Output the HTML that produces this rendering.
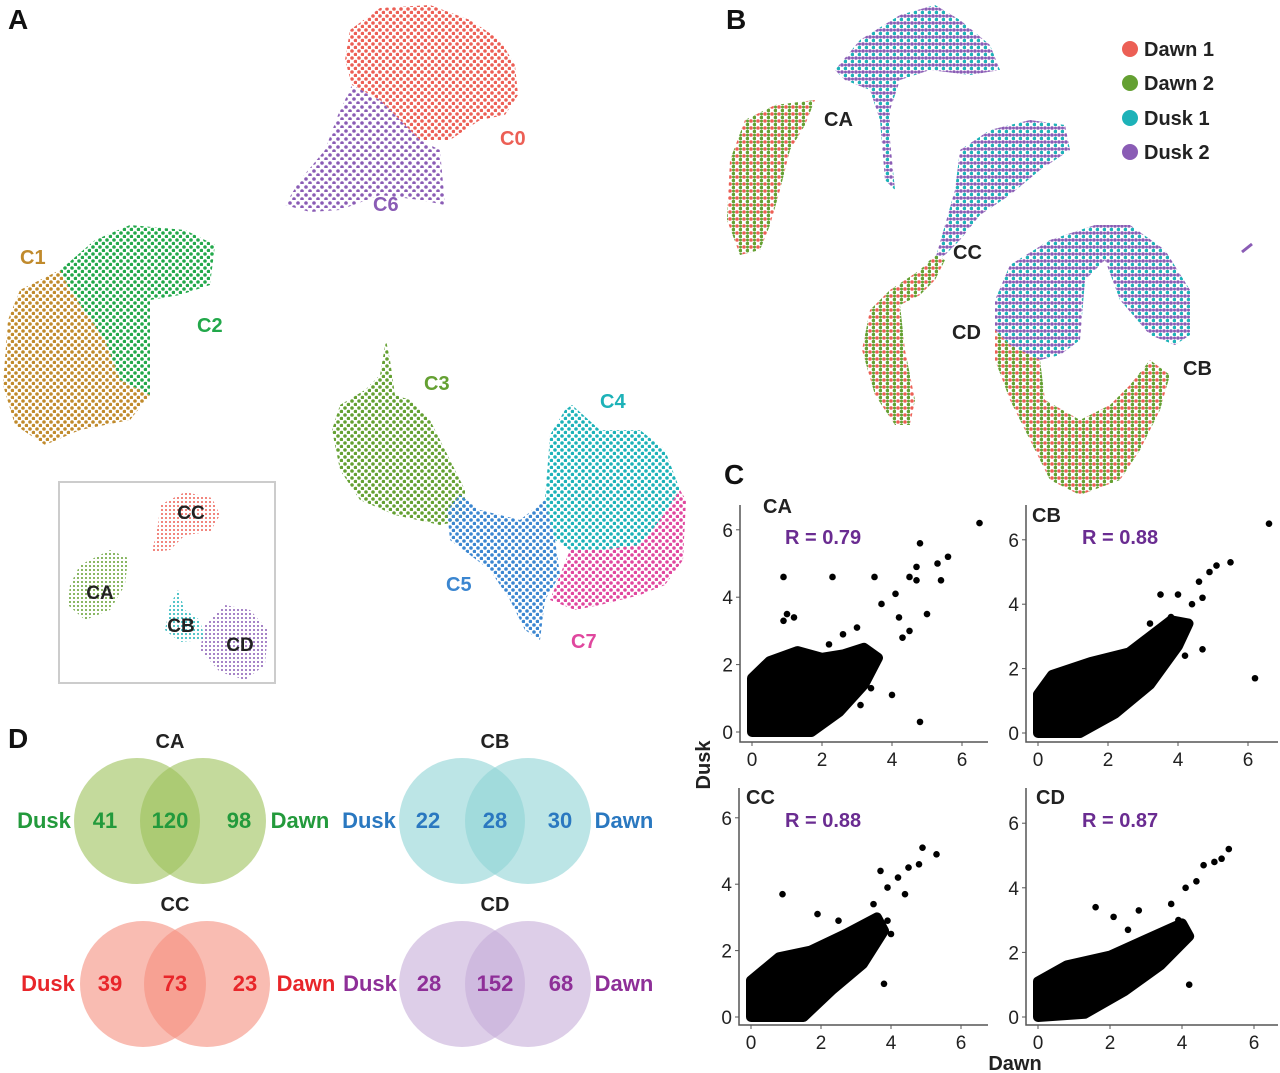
<!DOCTYPE html>
<html><head><meta charset="utf-8">
<style>
html,body{margin:0;padding:0;background:#fff;}
svg{display:block;font-family:"Liberation Sans",Arial,sans-serif;font-weight:bold;}
</style></head>
<body>
<svg id="fig" width="1280" height="1073" viewBox="0 0 1280 1073" xmlns="http://www.w3.org/2000/svg">
<defs>
<pattern id="pRed" width="7" height="7" patternUnits="userSpaceOnUse"><circle cx="2" cy="2" r="1.8" fill="#ec5f55"/><circle cx="5.5" cy="5.5" r="1.8" fill="#ec5f55"/></pattern>
<pattern id="pPurp" width="8" height="8" patternUnits="userSpaceOnUse"><circle cx="2" cy="3" r="1.8" fill="#8a5cb5"/><circle cx="6" cy="7" r="1.8" fill="#8a5cb5"/></pattern>
<pattern id="pGreen" width="7" height="7" patternUnits="userSpaceOnUse"><circle cx="2" cy="2" r="1.8" fill="#22a84a"/><circle cx="5.5" cy="5.5" r="1.8" fill="#22a84a"/></pattern>
<pattern id="pBrown" width="7" height="7" patternUnits="userSpaceOnUse"><circle cx="2" cy="2" r="1.8" fill="#c08a2c"/><circle cx="5.5" cy="5.5" r="1.8" fill="#c08a2c"/></pattern>
<pattern id="pOlive" width="7" height="7" patternUnits="userSpaceOnUse"><circle cx="2" cy="2" r="1.8" fill="#64a032"/><circle cx="5.5" cy="5.5" r="1.8" fill="#64a032"/></pattern>
<pattern id="pTeal" width="7" height="7" patternUnits="userSpaceOnUse"><circle cx="2" cy="2" r="1.8" fill="#1db2b8"/><circle cx="5.5" cy="5.5" r="1.8" fill="#1db2b8"/></pattern>
<pattern id="pBlue" width="7" height="7" patternUnits="userSpaceOnUse"><circle cx="2" cy="2" r="1.8" fill="#3b86d0"/><circle cx="5.5" cy="5.5" r="1.8" fill="#3b86d0"/></pattern>
<pattern id="pPink" width="7" height="7" patternUnits="userSpaceOnUse"><circle cx="2" cy="2" r="1.8" fill="#e0479e"/><circle cx="5.5" cy="5.5" r="1.8" fill="#e0479e"/></pattern>
<pattern id="pDusk" width="7" height="7" patternUnits="userSpaceOnUse"><circle cx="2" cy="2" r="1.8" fill="#8a5cb5"/><circle cx="5.5" cy="5.5" r="1.8" fill="#1db2b8"/><circle cx="5.5" cy="2" r="1.5" fill="#8a5cb5"/></pattern>
<pattern id="pDawn" width="7" height="7" patternUnits="userSpaceOnUse"><circle cx="2" cy="2" r="1.8" fill="#ec5f55"/><circle cx="5.5" cy="5.5" r="1.8" fill="#64a032"/><circle cx="5.5" cy="2" r="1.5" fill="#64a032"/></pattern>
<pattern id="pSmRed" width="4" height="4" patternUnits="userSpaceOnUse"><circle cx="2" cy="2" r="1" fill="#ec5f55"/></pattern>
<pattern id="pSmGreen" width="4" height="4" patternUnits="userSpaceOnUse"><circle cx="2" cy="2" r="1" fill="#64a032"/></pattern>
<pattern id="pSmTeal" width="4" height="4" patternUnits="userSpaceOnUse"><circle cx="2" cy="2" r="1" fill="#1db2b8"/></pattern>
<pattern id="pSmPurp" width="4" height="4" patternUnits="userSpaceOnUse"><circle cx="2" cy="2" r="1" fill="#8a5cb5"/></pattern>
</defs>

<g>
<text x="8" y="29" font-size="28" fill="#111">A</text>
<polygon fill="url(#pRed)" points="350,30 380,8 430,5 470,20 500,40 515,65 518,95 505,115 480,120 450,140 420,140 400,120 380,100 352,85 345,60"/>
<polygon fill="url(#pPurp)" points="352,85 380,100 400,120 420,140 440,150 445,205 420,200 380,195 340,210 310,212 285,205 300,180 325,150 338,115"/>
<text x="500" y="145" font-size="20" fill="#ec5f55">C0</text>
<text x="373" y="211" font-size="20" fill="#8a5cb5">C6</text>

<polygon fill="url(#pGreen)" points="95,240 130,225 185,230 215,245 210,285 180,295 150,300 150,350 150,395 120,380 105,340 70,290 60,270"/>
<polygon fill="url(#pBrown)" points="20,290 60,270 70,290 105,340 120,380 150,395 130,420 80,430 45,445 15,425 3,385 8,320"/>
<text x="20" y="264" font-size="20" fill="#c08a2c">C1</text>
<text x="197" y="332" font-size="20" fill="#22a84a">C2</text>

<polygon fill="url(#pOlive)" points="340,405 365,390 380,375 386,340 390,360 395,395 410,400 430,420 450,460 465,490 465,520 440,525 395,515 360,500 340,470 332,430"/>
<polygon fill="url(#pBlue)" points="460,495 480,510 520,520 545,500 555,540 560,575 545,600 540,640 525,630 510,600 490,570 450,540 447,510"/>
<polygon fill="url(#pTeal)" points="550,435 565,410 572,405 600,430 640,430 665,450 680,490 660,520 640,545 600,550 570,550 555,540 545,500"/>
<polygon fill="url(#pPink)" points="660,520 680,490 686,500 683,560 665,585 640,595 600,605 575,610 550,600 560,575 570,550 600,550 640,545"/>
<text x="424" y="390" font-size="20" fill="#64a032">C3</text>
<text x="600" y="408" font-size="20" fill="#1db2b8">C4</text>
<text x="446" y="591" font-size="20" fill="#3b86d0">C5</text>
<text x="571" y="648" font-size="20" fill="#e0479e">C7</text>

<g>
<rect x="59" y="482" width="216" height="201" fill="#fff" stroke="#ccc" stroke-width="2"/>
<polygon fill="url(#pSmRed)" points="160,505 185,492 212,498 220,515 210,532 185,535 170,550 152,552 158,525"/>
<polygon fill="url(#pSmGreen)" points="80,565 110,550 128,558 125,585 110,610 85,620 68,605 70,585"/>
<polygon fill="url(#pSmTeal)" points="170,605 178,590 185,610 200,620 205,640 180,642 165,630"/>
<polygon fill="url(#pSmPurp)" points="205,625 225,605 250,610 268,630 265,665 245,680 220,672 200,650"/>
<text x="191" y="519" font-size="19" fill="#222" text-anchor="middle">CC</text>
<text x="100" y="599" font-size="19" fill="#222" text-anchor="middle">CA</text>
<text x="181" y="632" font-size="19" fill="#222" text-anchor="middle">CB</text>
<text x="240" y="651" font-size="19" fill="#222" text-anchor="middle">CD</text>
</g>
</g>

<g>
<text x="726" y="29" font-size="28" fill="#111">B</text>
<polygon fill="url(#pDusk)" points="835,70 860,40 900,15 935,5 960,20 990,45 1000,70 970,75 930,70 900,80 890,110 890,140 895,190 885,180 880,120 870,90 845,80"/>
<polygon fill="url(#pDawn)" points="730,160 745,120 775,105 815,100 805,125 790,150 780,190 770,225 760,250 740,255 727,220"/>
<polygon fill="url(#pDusk)" points="960,150 990,130 1030,120 1065,125 1070,150 1040,170 1010,195 980,215 960,240 945,255 935,260 945,225 955,190"/>
<polygon fill="url(#pDawn)" points="935,255 945,260 935,280 920,295 900,305 905,350 915,400 910,425 895,425 875,395 862,350 870,310 890,290 920,270"/>
<polygon fill="url(#pDusk)" points="995,300 1010,265 1050,240 1095,225 1130,225 1165,250 1190,290 1190,335 1175,345 1150,335 1120,300 1105,260 1085,280 1080,340 1060,355 1040,360 1010,345 995,330"/>
<polygon fill="url(#pDawn)" points="995,330 1010,345 1040,360 1045,400 1080,420 1110,405 1130,385 1150,360 1170,375 1160,410 1140,450 1120,480 1080,495 1050,480 1030,440 1010,400 995,360"/>
<text x="824" y="126" font-size="20" fill="#222">CA</text>
<text x="953" y="259" font-size="20" fill="#222">CC</text>
<text x="952" y="339" font-size="20" fill="#222">CD</text>
<text x="1183" y="375" font-size="20" fill="#222">CB</text>
<line x1="1242" y1="252" x2="1252" y2="244" stroke="#8a5cb5" stroke-width="3"/>
<g>
<circle cx="1130" cy="49" r="8" fill="#ec5f55"/><text x="1144" y="56" font-size="20" fill="#222">Dawn 1</text>
<circle cx="1130" cy="83" r="8" fill="#64a032"/><text x="1144" y="90" font-size="20" fill="#222">Dawn 2</text>
<circle cx="1130" cy="118" r="8" fill="#1db2b8"/><text x="1144" y="125" font-size="20" fill="#222">Dusk 1</text>
<circle cx="1130" cy="152" r="8" fill="#8a5cb5"/><text x="1144" y="159" font-size="20" fill="#222">Dusk 2</text>
</g>
</g>

<g id="panelC">
<text x="724" y="484" font-size="28" fill="#111">C</text>
<text transform="translate(710,765) rotate(-90)" font-size="20" fill="#222" text-anchor="middle">Dusk</text>
<text x="1015" y="1070" font-size="20" fill="#222" text-anchor="middle">Dawn</text>
</g>

<g>
<text x="8" y="748" font-size="28" fill="#111">D</text>
<g>
<circle cx="137" cy="821" r="63" fill="#9cc15a" fill-opacity="0.6"/><circle cx="203" cy="821" r="63" fill="#9cc15a" fill-opacity="0.6"/>
<text x="170" y="748" font-size="20" fill="#222" text-anchor="middle">CA</text>
<g fill="#239a3c" font-size="22" text-anchor="middle"><text x="44" y="828">Dusk</text><text x="105" y="828">41</text><text x="170" y="828">120</text><text x="239" y="828">98</text><text x="300" y="828">Dawn</text></g>
</g>
<g>
<circle cx="462" cy="821" r="63" fill="#8fd3d6" fill-opacity="0.6"/><circle cx="528" cy="821" r="63" fill="#8fd3d6" fill-opacity="0.6"/>
<text x="495" y="748" font-size="20" fill="#222" text-anchor="middle">CB</text>
<g fill="#2a78c0" font-size="22" text-anchor="middle"><text x="369" y="828">Dusk</text><text x="428" y="828">22</text><text x="495" y="828">28</text><text x="560" y="828">30</text><text x="624" y="828">Dawn</text></g>
</g>
<g>
<circle cx="143" cy="984" r="63" fill="#f5907e" fill-opacity="0.6"/><circle cx="207" cy="984" r="63" fill="#f5907e" fill-opacity="0.6"/>
<text x="175" y="911" font-size="20" fill="#222" text-anchor="middle">CC</text>
<g fill="#e8262a" font-size="22" text-anchor="middle"><text x="48" y="991">Dusk</text><text x="110" y="991">39</text><text x="175" y="991">73</text><text x="245" y="991">23</text><text x="306" y="991">Dawn</text></g>
</g>
<g>
<circle cx="462" cy="984" r="63" fill="#c7aed8" fill-opacity="0.6"/><circle cx="528" cy="984" r="63" fill="#c7aed8" fill-opacity="0.6"/>
<text x="495" y="911" font-size="20" fill="#222" text-anchor="middle">CD</text>
<g fill="#8e2f98" font-size="22" text-anchor="middle"><text x="370" y="991">Dusk</text><text x="429" y="991">28</text><text x="495" y="991">152</text><text x="561" y="991">68</text><text x="624" y="991">Dawn</text></g>
</g>
</g>
</svg>

<script>
const panelNames = ["CA","CB","CC","CD"];
const rValues = ["R = 0.79","R = 0.88","R = 0.88","R = 0.87"];
const tickValues = [0,2,4,6];
const outliersCA = [[6.5,6.2],[4.8,5.6],[5.6,5.2],[5.3,5.0],[4.7,4.9],[4.5,4.6],[4.7,4.5],[5.4,4.5],[0.9,4.6],[2.3,4.6],[3.5,4.6],[4.1,4.1],[5.0,3.5],[4.3,2.8],[4.5,3.0],[3.4,1.3],[4.0,1.1],[4.8,0.3],[3.1,0.8],[1.0,3.5],[0.9,3.3],[1.2,3.4],[3.7,3.8],[4.2,3.4],[2.6,2.9],[3.0,3.1],[2.2,2.6]];
const outliersCB = [[6.6,6.5],[5.5,5.3],[5.1,5.2],[4.9,5.0],[4.6,4.7],[4.0,4.3],[3.5,4.3],[4.4,4.0],[4.7,4.2],[6.2,1.7],[4.7,2.6],[4.2,2.4],[3.5,3.0],[3.0,2.5],[2.5,1.8],[2.1,0.5],[1.7,0.3],[3.8,3.6],[3.2,3.4]];
const outliersCC = [[5.3,4.9],[4.9,5.1],[4.8,4.6],[4.5,4.5],[4.2,4.2],[3.7,4.4],[3.9,3.9],[4.4,3.7],[3.5,3.4],[3.9,2.9],[0.9,3.7],[3.3,2.1],[3.8,1.0],[2.9,1.3],[2.5,2.9],[1.9,3.1],[4.0,2.5]];
const outliersCD = [[5.3,5.2],[5.1,4.9],[4.9,4.8],[4.6,4.7],[4.4,4.2],[4.1,4.0],[3.7,3.5],[2.8,3.3],[2.1,3.1],[2.5,2.7],[4.2,1.0],[3.3,2.2],[3.9,3.0],[1.6,3.4]];
const coreCA = [[0,0],[1.7,0],[2.5,0.6],[3.2,1.4],[3.6,2.2],[3.2,2.5],[2.6,2.3],[2.0,2.2],[1.3,2.4],[0.5,2.1],[0,1.6]];
const coreCB = [[0,0],[1.2,0],[2.2,0.6],[3.2,1.5],[4.0,2.7],[4.3,3.4],[3.8,3.5],[2.6,2.5],[1.5,2.2],[0.4,1.8],[0,1.2]];
const coreCC = [[0,0],[1.5,0],[2.3,0.8],[3.2,1.6],[3.8,2.6],[3.6,3.0],[2.7,2.5],[1.7,2.0],[0.8,1.8],[0,1.1]];
const coreCD = [[0,0],[1.3,0.1],[2.4,0.8],[3.4,1.6],[4.2,2.5],[4.0,2.9],[3.0,2.4],[2.0,1.9],[0.8,1.6],[0,1.1]];

const outlierSets = [outliersCA,outliersCB,outliersCC,outliersCD];
const coreSets = [coreCA,coreCB,coreCC,coreCD];
const axesCfg = [
  {x0:752,xu:35,y0:732,yu:33.7,left:740,bottom:742,right:988,top:505,tx:763,ty:513,rx:785,ry:544},
  {x0:1038,xu:35,y0:733,yu:32.2,left:1026,bottom:742,right:1278,top:505,tx:1032,ty:522,rx:1082,ry:544},
  {x0:751,xu:35,y0:1017,yu:33.2,left:739,bottom:1025,right:988,top:788,tx:746,ty:804,rx:785,ry:827},
  {x0:1038,xu:36,y0:1017,yu:32.3,left:1026,bottom:1025,right:1278,top:788,tx:1036,ty:804,rx:1082,ry:827}
];
const NS="http://www.w3.org/2000/svg";
const gC=document.getElementById('panelC');
function mk(tag,attrs,parent){const e=document.createElementNS(NS,tag);for(const k in attrs)e.setAttribute(k,attrs[k]);parent.appendChild(e);return e;}
panelNames.forEach((nm,i)=>{
  const c=axesCfg[i];
  const xs=v=>c.x0+c.xu*v, ys=v=>c.y0-c.yu*v;
  const g=mk('g',{},gC);
  
  
  const ax=mk('path',{d:`M${c.left},${c.top} V${c.bottom} H${c.right}`,stroke:'#555',fill:'none','stroke-width':1.5},g);
  
  
  tickValues.forEach(t=>{
    mk('line',{x1:c.left-4,x2:c.left,y1:ys(t),y2:ys(t),stroke:'#555'},g);
    mk('line',{x1:xs(t),x2:xs(t),y1:c.bottom,y2:c.bottom+4,stroke:'#555'},g);
    const yl=mk('text',{x:c.left-7,y:ys(t)+7,'font-size':19,fill:'#222','text-anchor':'end','font-weight':'normal'},g);
    yl.textContent=t;
    
    
    const xl=mk('text',{x:xs(t),y:c.bottom+24,'font-size':19,fill:'#222','text-anchor':'middle','font-weight':'normal'},g);
    xl.textContent=t;
    
    
  });
  const core=mk('polygon',{points:coreSets[i].map(p=>xs(p[0])+','+ys(p[1])).join(' '),fill:'#000',stroke:'#000','stroke-width':10,'stroke-linejoin':'round'},g);
  
  
  outlierSets[i].forEach(p=>{
    const d=mk('circle',{cx:xs(p[0]),cy:ys(p[1]),r:3.3,fill:'#000'},g);
    
    
  });
  const t=mk('text',{x:c.tx,y:c.ty,'font-size':20,fill:'#222'},g);
  t.textContent=nm;
  
  
  const r=mk('text',{x:c.rx,y:c.ry,'font-size':20,fill:'#6a2c91'},g);
  r.textContent=rValues[i];
  
  
});
</script>
</body></html>
